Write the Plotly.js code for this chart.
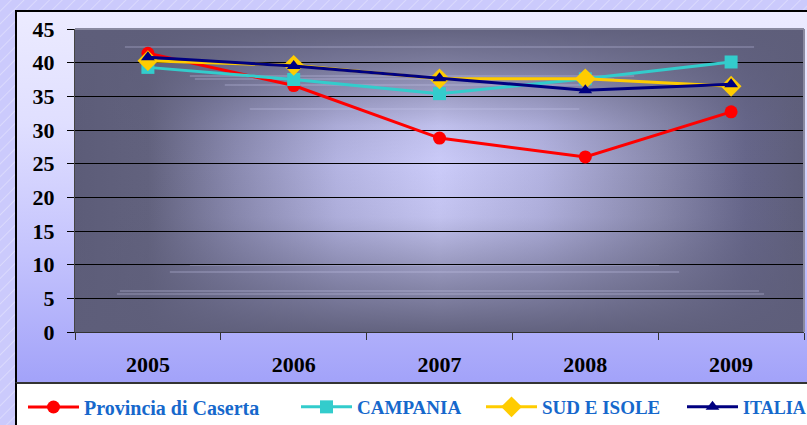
<!DOCTYPE html>
<html>
<head>
<meta charset="utf-8">
<script src="https://cdn.plot.ly/plotly-3.0.1.min.js"></script>
<style>
html,body{margin:0;padding:0;width:807px;height:425px;overflow:hidden;}
body{background-color:#cbcafc;background-image:repeating-linear-gradient(135deg, rgba(255,255,255,0) 0px, rgba(255,255,255,0) 7px, rgba(255,255,255,0.3) 8px, rgba(255,255,255,0) 9px);}
#frame{position:absolute;left:15px;top:10px;width:800px;height:373px;border-top:2px solid #000;border-left:2px solid #000;box-sizing:border-box;background:linear-gradient(to bottom,#ecebff 0%,#e0dfff 30%,#c4c3fd 65%,#a2a2f9 100%);}
#legbox{position:absolute;left:15px;top:382px;width:800px;height:50px;border-top:2px solid #333;border-left:2px solid #000;box-sizing:border-box;background:#fff;}
#chart{position:absolute;left:0;top:0;width:807px;height:425px;}
</style>
</head>
<body>
<div id="frame"></div>
<div id="legbox"></div>
<div id="chart"></div>
<script>
// ---- data ----
const years = ["2005", "2006", "2007", "2008", "2009"];
const caserta = [41.4, 36.6, 28.8, 26.0, 32.7];
const campania = [39.3, 37.5, 35.4, 37.6, 40.1];
const sudIsole = [40.3, 39.6, 37.6, 37.6, 36.5];
const italia = [40.8, 39.5, 37.7, 35.9, 36.8];
const seriesNames = ["Provincia di Caserta", "CAMPANIA", "SUD E ISOLE", "ITALIA"];
const yTicks = [0, 5, 10, 15, 20, 25, 30, 35, 40, 45];

const svg = "<svg xmlns='http://www.w3.org/2000/svg' width='730' height='303' viewBox='0 0 730 303' preserveAspectRatio='none'>" +
  "<defs>" +
  "<linearGradient id='h' x1='0' y1='0' x2='1' y2='0'>" +
  "<stop offset='0' stop-color='#5c5c78'/><stop offset='0.1' stop-color='#62627e'/>" +
  "<stop offset='0.22' stop-color='#8a8ab0'/><stop offset='0.36' stop-color='#b4b4e2'/>" +
  "<stop offset='0.5' stop-color='#cbcbf9'/><stop offset='0.64' stop-color='#b4b4e2'/>" +
  "<stop offset='0.8' stop-color='#8a8aae'/><stop offset='0.92' stop-color='#66668a'/>" +
  "<stop offset='1' stop-color='#5e5e7a'/></linearGradient>" +
  "<linearGradient id='v' x1='0' y1='0' x2='0' y2='1'>" +
  "<stop offset='0' stop-color='#5e5e7a' stop-opacity='0.95'/><stop offset='0.12' stop-color='#5e5e7a' stop-opacity='0.7'/>" +
  "<stop offset='0.32' stop-color='#5e5e7a' stop-opacity='0.1'/><stop offset='0.45' stop-color='#5e5e7a' stop-opacity='0'/>" +
  "<stop offset='0.62' stop-color='#5e5e7a' stop-opacity='0.08'/><stop offset='0.8' stop-color='#5e5e7a' stop-opacity='0.5'/>" +
  "<stop offset='1' stop-color='#5e5e7a' stop-opacity='0.95'/></linearGradient>" +
  "</defs>" +
  "<rect width='730' height='303' fill='url(#h)'/>" +
  "<rect width='730' height='303' fill='url(#v)'/>" +
  "<g stroke='#c8c8ee' stroke-opacity='0.5' stroke-width='1'>" +
  "<line x1='50' y1='18' x2='680' y2='18'/><line x1='115' y1='47' x2='560' y2='47'/>" +
  "<line x1='120' y1='50' x2='540' y2='50'/><line x1='150' y1='56' x2='510' y2='56'/>" +
  "<line x1='175' y1='80' x2='505' y2='80'/>" +
  "<line x1='115' y1='236' x2='585' y2='236'/><line x1='95' y1='243' x2='605' y2='243'/>" +
  "<line x1='45' y1='262' x2='685' y2='262'/><line x1='42' y1='265' x2='690' y2='265'/></g>" +
  "</svg>";
const bgSrc = "data:image/svg+xml;charset=utf-8," + encodeURIComponent(svg);

const colors = ["#ff0000", "#33cccc", "#ffcc00", "#000080"];
const values = [caserta, campania, sudIsole, italia];
const symbols = ["circle", "square", "diamond", "triangle-up"];
const sizes = [13, 13, 16, 12];
const legendIds = ["legend", "legend2", "legend3", "legend4"];

const traces = values.map((v, i) => ({
  x: years, y: v, name: seriesNames[i], type: "scatter", mode: "lines+markers",
  line: {color: colors[i], width: 3},
  marker: {symbol: symbols[i], size: sizes[i], color: colors[i], line: {width: 0}},
  legend: legendIds[i]
}));

function leg(xPix, fs) {
  return {xref: "container", yref: "container", x: xPix / 807, y: (425 - 407) / 425,
    xanchor: "left", yanchor: "middle", orientation: "h",
    bgcolor: "rgba(0,0,0,0)",
    font: {family: "Liberation Serif, Times New Roman, serif", size: fs, color: "#1668cc", weight: "bold"},
    itemwidth: 51, borderwidth: 0};
}

const layout = {
  width: 807, height: 425,
  margin: {l: 75, r: 3, t: 29, b: 93, autoexpand: false},
  paper_bgcolor: "rgba(0,0,0,0)",
  plot_bgcolor: "rgba(0,0,0,0)",
  font: {family: "Liberation Serif, Times New Roman, serif", color: "#000"},
  showlegend: true,
  legend: leg(23, 20),
  legend2: leg(296, 19),
  legend3: leg(481, 19),
  legend4: leg(682, 18),
  xaxis: {
    type: "category", range: [-0.5, 4.5], tickson: "boundaries", ticks: "outside", ticklen: 7, tickcolor: "#333",
    showline: true, linecolor: "#333", linewidth: 1, showgrid: false,
    tickfont: {size: 22, weight: "bold", family: "Liberation Serif, serif"},
    ticklabelstandoff: 13, fixedrange: true
  },
  yaxis: {
    range: [0, 45], tickvals: yTicks, ticks: "outside", ticklen: 7, tickcolor: "#000",
    showline: true, linecolor: "#444", linewidth: 1,
    gridcolor: "#000", gridwidth: 1, zeroline: false,
    tickfont: {size: 22, weight: "bold", family: "Liberation Serif, serif"},
    ticklabelstandoff: 8, fixedrange: true
  },
  images: [{source: bgSrc, xref: "paper", yref: "paper", x: 0, y: 1, sizex: 1, sizey: 1,
    sizing: "stretch", xanchor: "left", yanchor: "top", layer: "below"}],
  shapes: [{type: "line", xref: "paper", yref: "paper", x0: 0, x1: 1, y0: 1, y1: 1, line: {color: "#8a8aa0", width: 2}},
           {type: "line", xref: "paper", yref: "paper", x0: 1, x1: 1, y0: 0, y1: 1, line: {color: "#8a8aa0", width: 2}}]
};

Plotly.newPlot("chart", traces, layout, {displayModeBar: false, staticPlot: true});
</script>
</body>
</html>
